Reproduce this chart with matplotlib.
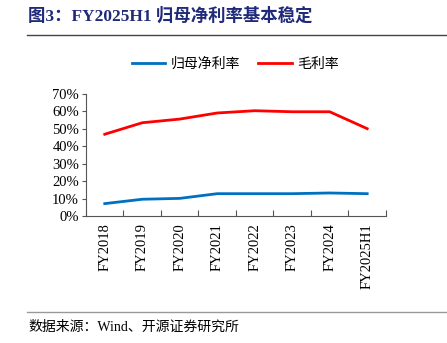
import matplotlib.pyplot as plt
from matplotlib.lines import Line2D

plt.rcParams['font.family'] = ['Liberation Serif', 'Noto Sans CJK SC']

years = ['FY2018', 'FY2019', 'FY2020', 'FY2021', 'FY2022', 'FY2023', 'FY2024', 'FY2025H1']
net_margin = [7.1, 9.6, 10.1, 12.8, 12.8, 12.8, 13.2, 12.8]
gross_margin = [46.9, 53.5, 55.6, 59.1, 60.4, 59.8, 59.8, 50.1]

fig = plt.figure(figsize=(4.47, 3.43), dpi=100)
ax = fig.add_axes([0.1924, 0.3703, 0.671, 0.3557])

x = range(len(years))
ax.plot(x, net_margin, color='#0070C0', linewidth=2, label='归母净利率')
ax.plot(x, gross_margin, color='#FF0000', linewidth=2, label='毛利率')

ax.set_xlim(-0.5, len(years) - 0.5)
ax.set_ylim(0, 70)
ax.set_yticks(range(0, 71, 10))
ax.set_yticklabels([f'{v}%' for v in range(0, 71, 10)], fontsize=10.5)
ax.set_xticks([i + 0.5 for i in range(-1, len(years))])
ax.set_xticklabels([])
ax.tick_params(axis='x', direction='in', length=4, color='#555555')
ax.tick_params(axis='y', direction='out', length=3, color='#555555', pad=2)
for i, lab in enumerate(years):
    ax.text(i, -4, lab, rotation=90, ha='center', va='top', fontsize=10.5)

for s in ['top', 'right']:
    ax.spines[s].set_visible(False)
for s in ['left', 'bottom']:
    ax.spines[s].set_color('#555555')
    ax.spines[s].set_linewidth(0.8)

fig.legend(loc='center', bbox_to_anchor=(0.527, 0.813), ncol=2, frameon=False,
           prop={'family': 'Noto Sans CJK SC', 'size': 10}, handlelength=2.4,
           columnspacing=1.3, handletextpad=0.4)

fig.text(0.063, 0.953, '图3：FY2025H1 归母净利率基本稳定', fontsize=12.5, fontweight='bold',
         color='#1F2A7A', va='center', ha='left')
fig.add_artist(Line2D([0.06, 1.0], [0.899, 0.899], color='#444444', linewidth=1))
fig.add_artist(Line2D([0.06, 1.0], [0.091, 0.091], color='#999999', linewidth=1))
fig.text(0.063, 0.047, '数据来源：Wind、开源证券研究所', fontsize=10, va='center', ha='left',
         family=['Liberation Serif', 'Noto Sans CJK SC'])

fig.savefig('out.png', dpi=100)
